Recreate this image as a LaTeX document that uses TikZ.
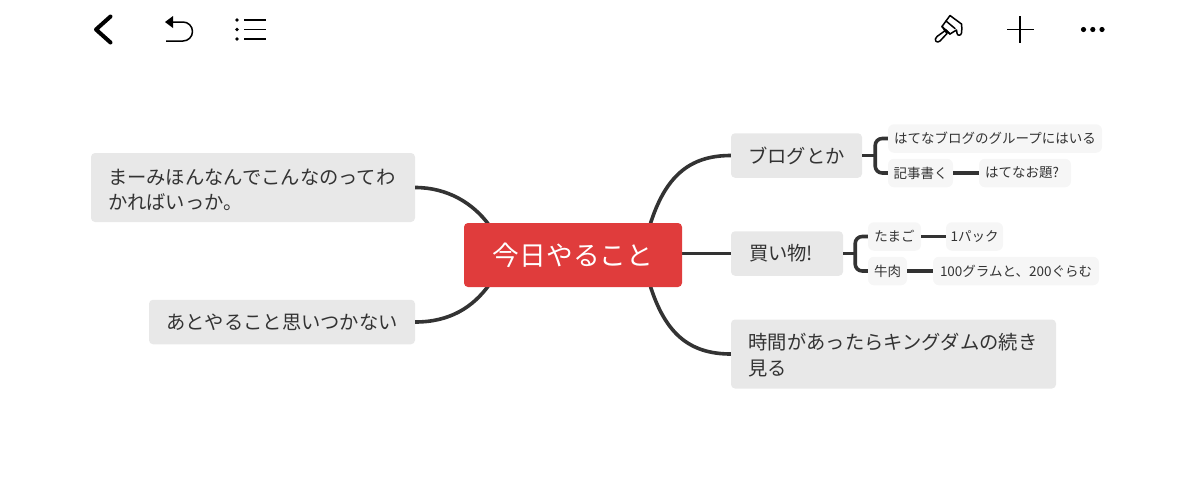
\documentclass[tikz,border=0pt]{standalone}
\usepackage{fontspec}
\setmainfont{Noto Sans CJK JP}
\usetikzlibrary{calc}
\definecolor{ink}{HTML}{333333}
\definecolor{rootred}{HTML}{E03C3C}
\definecolor{mainbg}{HTML}{E8E8E8}
\definecolor{subbg}{HTML}{F6F6F6}
\tikzset{
 rootbox/.style={fill=rootred,text=white,rounded corners=4,inner sep=0,minimum width=218,minimum height=64,font=\fontsize{26.7}{30}\selectfont},
 mainbox/.style={fill=mainbg,text=ink,rounded corners=4,inner sep=0,minimum height=44.5,font=\fontsize{19.3}{25.5}\selectfont},
 subbox/.style={fill=subbg,text=ink,rounded corners=6,inner sep=0,minimum height=28.5,font=\fontsize{13.5}{16}\selectfont},
 link/.style={draw=ink,line width=3.6,line cap=butt},
 brace/.style={draw=ink,line width=3.6,rounded corners=7},
 icon/.style={draw=black,line width=1.5,line cap=round,line join=round}
}
\begin{document}
\begin{tikzpicture}[x=1pt,y=-1pt]
\useasboundingbox (0,0) rectangle (1200,488);
\coordinate (rootc) at (573,255);
\node[mainbox,minimum width=324,minimum height=69,text width=290,align=left] (n1) at (253,187.5) {\rule{0pt}{20pt}まーみほんなんでこんなのってわ\\かればいっか。};
\node[mainbox,minimum width=266] (n2) at (282,322) {あとやること思いつかない};
\node[mainbox,minimum width=131] (r1) at (796.5,155.5) {ブログとか};
\node[mainbox,minimum width=112,text width=76,align=left] (r2) at (787,253.5) {買い物!};
\node[mainbox,minimum width=325,minimum height=69,text width=290,align=left] (r3) at (893.5,354) {\rule{0pt}{19pt}時間があったらキングダムの続き\\見る};
\node[subbox,minimum width=214] (s1) at (995,138.5) {はてなブログのグループにはいる};
\node[subbox,minimum width=65] (s2) at (920.5,173) {記事書く};
\node[subbox,minimum width=92,text width=80,align=left] (s3) at (1025,173) {はてなお題?};
\node[subbox,minimum width=53] (s4) at (894.5,236.5) {たまご};
\node[subbox,minimum width=57] (s5) at (974.5,236.5) {1パック};
\node[subbox,minimum width=39] (s6) at (887.5,271) {牛肉};
\node[subbox,minimum width=166] (s7) at (1016,271) {100グラムと、200ぐらむ};
% connectors to the root (its box is drawn over their ends)
\coordinate (a1) at ($(rootc)+(-84,-30)$);
\coordinate (a2) at ($(rootc)+(-84,30)$);
\coordinate (a3) at ($(rootc)+(77,-30)$);
\coordinate (a4) at ($(rootc)+(77,30)$);
\draw[link] (n1.east) .. controls +(32,0) and +(-16,-22) .. (a1);
\draw[link] (n2.east) .. controls +(35,0) and +(-16,22) .. (a2);
\draw[link] (r1.west) .. controls +(-42,0) and +(15,-48) .. (a3);
\draw[link] (r3.west) .. controls +(-42,0) and +(15,48) .. (a4);
\draw[link] (r2.west) -- (r2.west -| rootc);
\node[rootbox] (root) at (rootc) {今日やること};
% sub-branches
\draw[link] (r1.east) -- ++(13,0) coordinate (b1);
\draw[brace] (s1.west) -| (b1) |- (s2.west);
\draw[link] (r2.east) -- ++(12,0) coordinate (b2);
\draw[brace] (s4.west) -| (b2) |- (s6.west);
\draw[link] (s2.east) -- (s3.west);
\draw[link] (s4.east) -- (s5.west);
\draw[link] (s6.east) -- (s7.west);
% toolbar: back
\draw[icon,line width=4] (110.5,16.5) -- (96,29.5) -- (110.5,42.5);
% undo
\fill[black] (165,22) -- (173,16) -- (173,28) -- cycle;
\draw[icon,line cap=butt] (172,22) -- (183,22) arc[start angle=-90,end angle=90,radius=9.5] -- (166,41);
% list
\foreach \yy in {20,29.5,39}{
 \fill[black] (237,\yy) circle[radius=1.8];
 \draw[icon,line cap=butt] (244,\yy) -- (265.5,\yy);
}
% brush
\draw[icon] (950,15.5) -- (961.5,24) .. controls (962,27) and (962,30) .. (961.5,33) .. controls (961,36) and (957,36) .. (957,33) -- (956.5,30) -- (950,34) -- (946,30) -- (937,36.5) .. controls (933,40) and (937,44) .. (940,41) -- (947,33.5) -- (942,26.5) -- cycle;
\draw[icon] (946,21) -- (955,28.5);
\draw[icon] (942,26.5) -- (950,34);
% plus
\draw[icon,line cap=butt,line width=1.4] (1007,29.5) -- (1033.5,29.5);
\draw[icon,line cap=butt,line width=1.4] (1020,16) -- (1020,43);
% more
\foreach \xx in {1083.5,1092.8,1102}{\fill[black] (\xx,29.5) circle[radius=2.6];}
\end{tikzpicture}
\end{document}
